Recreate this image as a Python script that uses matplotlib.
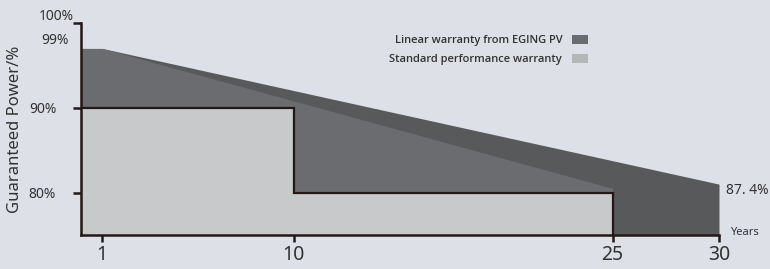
#!/usr/bin/env python3
"""Recreate EGING PV linear vs standard warranty chart."""

import matplotlib
matplotlib.use("Agg")
import matplotlib.pyplot as plt
from matplotlib.patches import Patch

# Values as drawn on the chart (percent of nominal power)
linear_years = [0, 1, 30]
linear_power = [97.0, 97.0, 81.0]
gap_years = [0, 1, 25]
gap_power = [97.0, 97.0, 80.5]
std_years = [0, 10, 25]
std_power = [90, 80, 80]
x_ticks = [1, 10, 25, 30]
y_ticks = [80, 90, 100]
y_tick_labels = ["80%", "90%", ""]
end_label = "87. 4%"
start_label = "99%"
legend_labels = ["Linear warranty from EGING PV", "Standard performance warranty"]

BG = "#dde0e6"
DARK = "#58595b"
MID = "#6b6c6f"
LIGHT = "#c8c9cb"
LINE = "#231815"
TEXT = "#333333"


def main():
    plt.rcParams["font.family"] = ["Noto Sans", "DejaVu Sans"]
    fig = plt.figure(figsize=(7.7, 2.69), dpi=100, facecolor=BG)
    ax = fig.add_axes([81 / 770, 34 / 269, 638 / 770, 212 / 269])
    ax.set_facecolor("none")

    base = 75
    ax.fill_between(linear_years, linear_power, base, color=DARK, lw=0, zorder=1)
    ax.fill_between(gap_years, gap_power, base, color=MID, lw=0, zorder=2)
    ax.fill_between(std_years, std_power, base, step="post", color=LIGHT, lw=0, zorder=3)
    # outline of the standard warranty steps
    sx = [std_years[0], std_years[1], std_years[1], std_years[2], std_years[2]]
    sy = [std_power[0], std_power[0], std_power[1], std_power[1], base]
    ax.plot(sx, sy, color=LINE, lw=1.6, zorder=4, solid_joinstyle="miter")

    ax.set_xlim(0, 30)
    ax.set_ylim(base, 100)
    for s in ["top", "right"]:
        ax.spines[s].set_visible(False)
    for s in ["left", "bottom"]:
        ax.spines[s].set_color(LINE)
        ax.spines[s].set_linewidth(1.8)
        ax.spines[s].set_zorder(5)

    ax.set_xticks(x_ticks)
    ax.set_xticklabels([str(t) for t in x_ticks], fontsize=14, color=TEXT)
    ax.set_yticks(y_ticks)
    ax.set_yticklabels(y_tick_labels, fontsize=10, color=TEXT)
    ax.tick_params(axis="x", length=5, width=1.8, color=LINE, pad=2)
    ax.tick_params(axis="y", length=6, width=1.8, color=LINE, pad=12)

    ax.text(-0.35, 100.8, "100%", ha="right", va="center", fontsize=10, color=TEXT)
    ax.text(-0.6, 97.9, start_label, ha="right", va="center", fontsize=10, color=TEXT)
    ax.text(30.35, 80.3, end_label, ha="left", va="center", fontsize=10, color=TEXT)
    ax.text(30.5, 75.3, "Years", ha="left", va="center", fontsize=8, color=TEXT)

    ax.set_ylabel("Guaranteed Power/%", fontsize=12, color=TEXT)
    ax.yaxis.set_label_coords(-0.091, 0.5)

    handles = [Patch(facecolor=MID, edgecolor="none"), Patch(facecolor="#b5b6b8", edgecolor="none")]
    leg = ax.legend(handles, legend_labels, loc="upper right", bbox_to_anchor=(0.81, 0.99),
                    frameon=False, markerfirst=False,
                    prop={"family": "Open Sans", "weight": "semibold", "size": 8},
                    handlelength=1.4, handleheight=0.8, handletextpad=0.9, labelspacing=0.7)
    for t in leg.get_texts():
        t.set_color(TEXT)

    fig.savefig("out.png", dpi=100, facecolor=BG)


if __name__ == "__main__":
    main()
